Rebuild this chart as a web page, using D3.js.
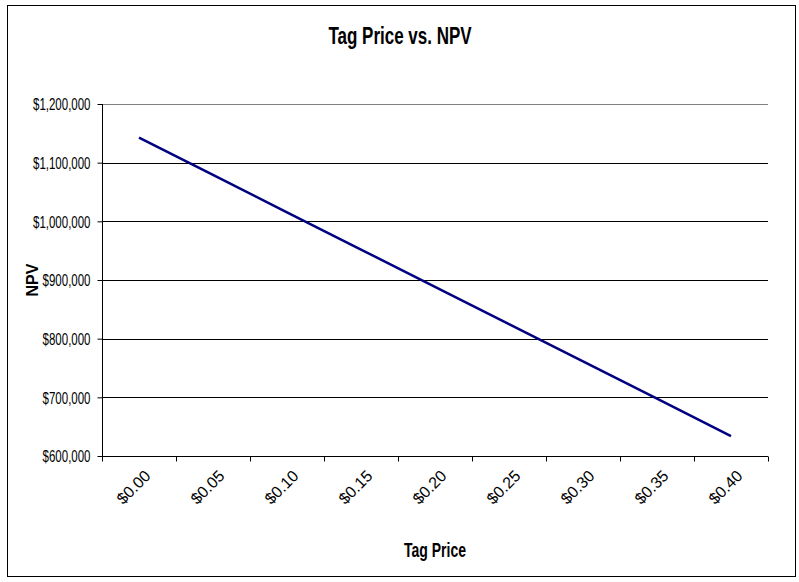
<!DOCTYPE html>
<html>
<head>
<meta charset="utf-8">
<script src="https://cdn.jsdelivr.net/npm/d3@7"></script>
<style>
  html, body { margin: 0; padding: 0; background: #fff; }
  svg { display: block; font-family: Arial, "Liberation Sans", sans-serif; }
</style>
</head>
<body>
<svg id="chart" width="799" height="582"></svg>
<script>
const categories = ["$0.00", "$0.05", "$0.10", "$0.15", "$0.20", "$0.25", "$0.30", "$0.35", "$0.40"];
const npvValues = [1142600, 1079000, 1015400, 951900, 888300, 824700, 761100, 697600, 634000];
const yTicks = [600000, 700000, 800000, 900000, 1000000, 1100000, 1200000];
const chartTitle = "Tag Price vs. NPV";
const xTitle = "Tag Price";
const yTitle = "NPV";

const svg = d3.select("#chart");
const plot = { left: 102, right: 768, top: 104, bottom: 456 };
const SY = 1.38; // vertical text stretch seen in the reference

svg.append("rect")
  .attr("x", 7.5).attr("y", 5.5)
  .attr("width", 788).attr("height", 571)
  .attr("fill", "#fff").attr("stroke", "#000").attr("stroke-width", 1);

const x = d3.scaleBand().domain(categories).range([plot.left, plot.right]).paddingInner(0).paddingOuter(0);
const y = d3.scaleLinear().domain([600000, 1200000]).range([plot.bottom, plot.top]);

// Gridlines
svg.append("g").selectAll("line").data(yTicks.filter(d => d > 600000)).join("line")
  .attr("x1", plot.left).attr("x2", plot.right)
  .attr("y1", d => Math.round(y(d)) + 0.5).attr("y2", d => Math.round(y(d)) + 0.5)
  .attr("stroke", d => d === 1200000 ? "#808080" : "#000").attr("stroke-width", 1);

// Y axis
const fmt = d3.format("$,.0f");
const yAxis = svg.append("g").attr("transform", `translate(${plot.left + 0.5},0)`)
  .call(d3.axisLeft(y).tickValues(yTicks).tickFormat(d => fmt(d)).tickSize(5).tickPadding(7));
yAxis.select(".domain").attr("stroke", "#000").attr("d", `M0,${plot.top}V${plot.bottom}`);
yAxis.selectAll(".tick line").attr("stroke", "#000");
yAxis.selectAll(".tick text")
  .attr("font-size", 11.5).attr("fill", "#000")
  .attr("font-family", "Arial, 'Liberation Sans', sans-serif")
  .attr("x", null).attr("dy", null)
  .attr("transform", `translate(-12,0) scale(1,${SY})`)
  .attr("dominant-baseline", "central");

// X axis: ticks at category boundaries
const xAxisG = svg.append("g").attr("transform", `translate(0,${plot.bottom + 0.5})`);
xAxisG.append("line").attr("x1", plot.left).attr("x2", plot.right).attr("y1", 0).attr("y2", 0).attr("stroke", "#000");
const boundaries = categories.map(c => x(c)).concat([x(categories[categories.length - 1]) + x.bandwidth()]);
xAxisG.selectAll("line.tk").data(boundaries).join("line").attr("class", "tk")
  .attr("x1", d => Math.round(d) + 0.5).attr("x2", d => Math.round(d) + 0.5)
  .attr("y1", 0).attr("y2", 5).attr("stroke", "#000");
xAxisG.selectAll("text").data(categories).join("text")
  .attr("transform", d => `translate(${x(d) + x.bandwidth() / 2 + 4},${12}) rotate(-45)`)
  .attr("text-anchor", "end")
  .attr("dy", "0.75em")
  .attr("font-size", 16)
  .attr("fill", "#000")
  .text(d => d);

// Line
const line = d3.line()
  .x((d, i) => x(categories[i]) + x.bandwidth() / 2)
  .y(d => y(d));
svg.append("path").datum(npvValues)
  .attr("d", line)
  .attr("fill", "none").attr("stroke", "#000080").attr("stroke-width", 2.5);

// Titles
svg.append("text").attr("transform", `translate(400,44) scale(1,${SY})`).attr("text-anchor", "middle")
  .attr("font-size", 17).attr("font-weight", "bold").text(chartTitle);
svg.append("text").attr("transform", `translate(435,557) scale(1,${SY})`).attr("text-anchor", "middle")
  .attr("font-size", 14).attr("font-weight", "bold").text(xTitle);
svg.append("text").attr("transform", `translate(38,280) rotate(-90)`).attr("text-anchor", "middle")
  .attr("font-size", 16).attr("font-weight", "bold").text(yTitle);
</script>
</body>
</html>
